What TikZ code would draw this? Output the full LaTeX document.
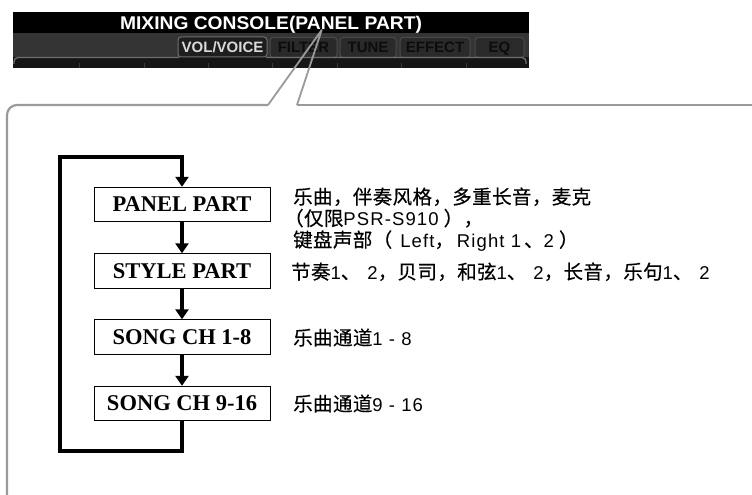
\documentclass[tikz,border=0pt]{standalone}
\usepackage{fontspec}
\usepackage{graphicx}
\setmainfont{Liberation Serif}
\newfontfamily\cjk[LetterSpace=2,FakeBold=0.3]{Noto Sans CJK SC}
\newfontfamily\latn[LetterSpace=6]{Liberation Sans}
\newfontfamily\hdrfont{Liberation Sans}
\usetikzlibrary{arrows.meta}
\definecolor{framegray}{HTML}{9A9A9A}
\definecolor{bandgray}{HTML}{343434}
\definecolor{lowgray}{HTML}{161616}
\definecolor{tabline}{HTML}{6E6E6E}
\definecolor{activefill}{HTML}{1E1E1E}
\definecolor{activetext}{HTML}{DADADA}
\definecolor{idlefill}{HTML}{2A2A2A}
\definecolor{idleline}{HTML}{4A4A4A}
\definecolor{idletext}{HTML}{0C0C0C}
\definecolor{tickgray}{HTML}{3C3C3C}
\newcommand\lt[1]{{\fontsize{18.5}{20}\latn #1}}
\begin{document}
\begin{tikzpicture}[x=1pt,y=-1pt,
  partbox/.style={draw=black, line width=0.9pt, fill=white, minimum width=176pt,
    minimum height=34.5pt, inner sep=0pt, font=\fontsize{22.5}{24}\selectfont\bfseries},
  desc/.style={anchor=base west, inner sep=0pt, font=\fontsize{19.5}{21}\selectfont},
  flow/.style={line width=4pt, -{Triangle[width=13pt,length=10pt]}},
  loopline/.style={line width=4pt, line join=miter, -{Triangle[width=13pt,length=10pt]}},
  frameline/.style={draw=framegray, line width=2.2pt},
  calloutline/.style={draw=framegray, line width=1.8pt, line join=round},
  activetab/.style={draw=tabline, line width=1pt, fill=activefill, rounded corners=3pt,
    inner sep=0pt, minimum height=20pt, text height=10.8pt, text depth=0pt,
    text=activetext, font=\fontsize{15}{16}\hdrfont\bfseries},
  idletab/.style={draw=idleline, line width=1pt, fill=idlefill, rounded corners=3pt,
    inner sep=0pt, minimum height=20pt, text height=10.8pt, text depth=0pt,
    text=idletext, font=\fontsize{15}{16}\hdrfont\bfseries},
  ticks/.style={draw=tickgray, line width=0.8pt}
]
\useasboundingbox (0,0) rectangle (752,495);
\clip (0,0) rectangle (752,495);
\fill[white] (0,0) rectangle (752,495);

% ---------- screenshot header ----------
\fill[black] (13,12) rectangle (529,68);
\fill[bandgray] (13,33) rectangle (529,57);
\fill[lowgray] (13,57) rectangle (529,68);
\foreach \i in {0,...,6} \draw[ticks] ({79.5+64.4*\i},63) -- ++(0,5);
\node[anchor=base, text=white, inner sep=0pt, font=\fontsize{17.5}{20}\hdrfont\bfseries]
  (title) at (271,29.5) {\scalebox{1.1}[1.05]{MIXING CONSOLE(PANEL PART)}};
\node[idletab, minimum width=67pt] (tfilter) at (303.5,47.5) {FILTER};
\node[idletab, minimum width=56pt] (ttune) at (368,47.5) {TUNE};
\node[idletab, minimum width=70pt] (teffect) at (435,47.5) {EFFECT};
\node[idletab, minimum width=49pt] (teq) at (499.5,47.5) {EQ};
\draw[draw=tabline, line width=1.3pt, rounded corners=4pt] (14,64) -- (14,57.5) -- (179,57.5);
\draw[draw=tabline, line width=1.3pt, rounded corners=4pt] (266,57.5) -- (526,57.5) -- (526,64);
\node[activetab, minimum width=89pt] (tvol) at (222.5,47) {VOL/VOICE};

% ---------- callout frame ----------
\coordinate (apex) at (321.7,30);
\coordinate (cl) at (268,105);
\coordinate (cr) at (297,105);
\coordinate (fl) at (7,105);
\coordinate (fb) at (7,510);
\coordinate (fr) at (770,105);
\draw[frameline, rounded corners=10pt] (cl) -- (fl) -- (fb);
\draw[frameline] (cr) -- (fr);
\draw[calloutline] (cl) -- (apex) -- (cr);

% ---------- flow boxes ----------
\node[partbox] (p)  at (182,204.5) {PANEL PART};
\node[partbox] (st) at (182,271)   {STYLE PART};
\node[partbox] (s1) at (182,337)   {SONG CH 1-8};
\node[partbox] (s2) at (182,403.5) {SONG CH 9-16};

\draw[flow] (p.south) -- (st.north);
\draw[flow] (st.south) -- (s1.north);
\draw[flow] (s1.south) -- (s2.north);

\coordinate (lb)  at (182,451);
\coordinate (lbl) at (60,451);
\coordinate (ltl) at (60,156.7);
\coordinate (lt)  at (182,156.7);
\draw[loopline] (s2.south) -- (lb) -- (lbl) -- (ltl) -- (lt) -- (p.north);

% ---------- descriptions ----------
\node[desc] (d1) at (293,204) {\cjk 乐曲，伴奏风格，多重长音，麦克};
\node[desc] (d2) at (293,225.5) {\cjk \hspace{-9pt}（仅限\lt{PSR-S910}\hspace{5pt}），};
\node[desc] (d3) at (293,247) {\cjk 键盘声部（\hspace{8pt}\lt{Left}，\hspace{3pt}\lt{Right 1}\hspace{3pt}、\lt{2}\hspace{5pt}）};
\node[desc] (d4) at (291,279) {\cjk 节奏\lt{1}、\hspace{7pt}\lt{2}，贝司，和弦\lt{1}、\hspace{7pt}\lt{2}，长音，乐句\lt{1}、\hspace{7pt}\lt{2}};
\node[desc] (d5) at (293,345) {\cjk 乐曲通道\lt{1 - 8}};
\node[desc] (d6) at (293,411) {\cjk 乐曲通道\lt{9 - 16}};
\end{tikzpicture}
\end{document}
